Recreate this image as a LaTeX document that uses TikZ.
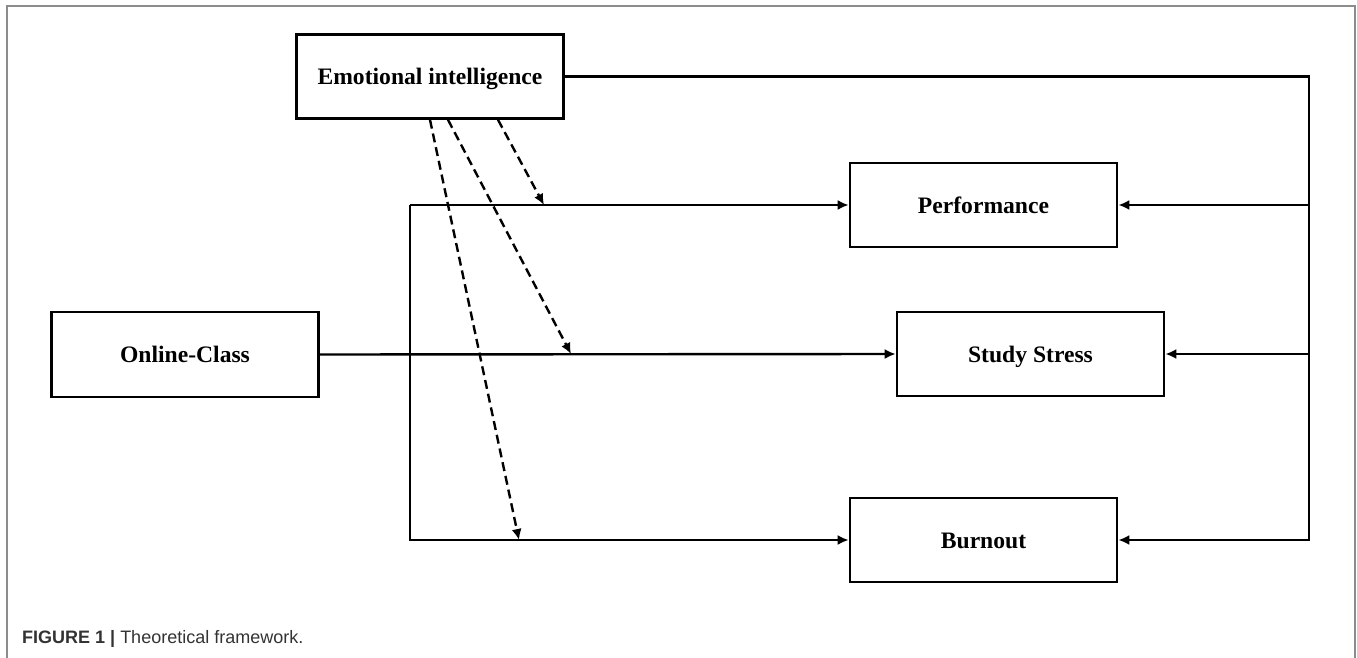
\documentclass[tikz,border=0pt]{standalone}
\usepackage{fontspec}
\setmainfont{Liberation Serif}
\newfontfamily\capfont{Liberation Sans}
\usetikzlibrary{arrows.meta}

\begin{document}
\begin{tikzpicture}[x=1pt, y=-1pt,
    box/.style={draw, line width=2.6pt, minimum width=267pt, minimum height=84pt,
        inner sep=0pt, text height=21pt, text depth=5pt,
        font=\fontsize{23.6}{28}\selectfont\bfseries},
    conn/.style={line width=2.4pt},
    arr/.style={conn, -{Latex[length=11pt, width=10pt]}},
    darr/.style={arr, dash pattern=on 9pt off 5pt}]
    \useasboundingbox (0, 0) rectangle (1357, 658);
    \draw[black!45, line width=1.5pt] (7, 658) |- (1355, 6) -- (1355, 658);

    \node[box] (ei) at (430, 76.5) {Emotional intelligence};
    \node[box, minimum height=85pt] (oc) at (185, 354.5) {Online-Class};
    \node[box] (pf) at (983.5, 205) {Performance};
    \node[box] (ss) at (1030.5, 354) {Study Stress};
    \node[box] (bo) at (983.5, 540) {Burnout};

    \coordinate (lx) at (410, 0);
    \coordinate (rx) at (1309, 0);
    \coordinate (d1) at (544, 205);
    \coordinate (d2) at (571, 354);
    \coordinate (d3) at (519, 540);

    \draw[arr] (oc.east) -- (ss.west);
    \draw[arr] (lx |- pf.west) -- (pf.west);
    \draw[arr] (lx |- pf.west) |- (bo.west);

    \draw[arr] (ei.east) -| (rx |- bo.east) -- (bo.east);
    \draw[arr] (rx |- pf.east) -- (pf.east);
    \draw[arr] (rx |- ss.east) -- (ss.east);

    \draw[darr] ([xshift=68pt]ei.south) -- (d1);
    \draw[darr] ([xshift=18pt]ei.south) -- (d2);
    \draw[darr] (ei.south) -- (d3);

    \node[anchor=base west, inner sep=0pt, text=black!80,
        font=\capfont\fontsize{18}{20}\selectfont] (cap) at (22, 643)
        {\textbf{FIGURE 1 |} Theoretical framework.};
\end{tikzpicture}
\end{document}
